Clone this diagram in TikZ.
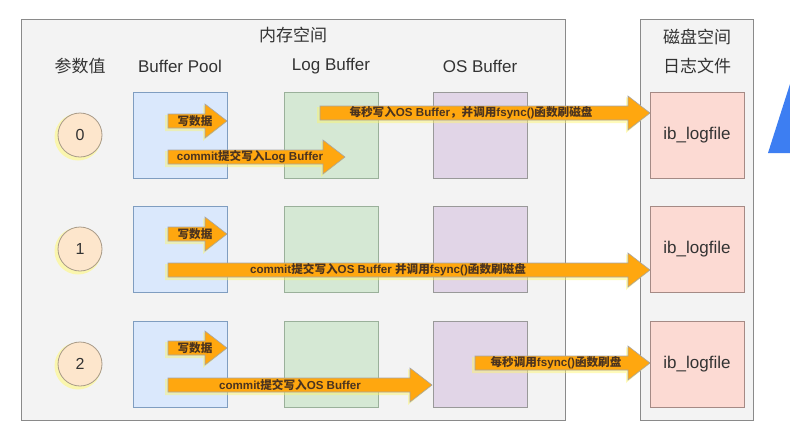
\documentclass[tikz,border=0pt]{standalone}
\usepackage{fontspec}
\setmainfont{Liberation Sans}
\newfontfamily\cjk{Noto Sans CJK SC}
\definecolor{bpfill}{HTML}{DAE8FC}
\definecolor{bpdraw}{HTML}{7F9DC0}
\definecolor{lbfill}{HTML}{D5E8D4}
\definecolor{lbdraw}{HTML}{9AB09A}
\definecolor{osfill}{HTML}{E1D5E7}
\definecolor{osdraw}{HTML}{999999}
\definecolor{lffill}{HTML}{FCDAD3}
\definecolor{lfdraw}{HTML}{A58A85}
\definecolor{cfill}{HTML}{F3F3F3}
\definecolor{cdraw}{HTML}{8A8A8A}
\definecolor{pfill}{HTML}{FDE6CC}
\definecolor{pdraw}{HTML}{A89A88}
\definecolor{arrfill}{HTML}{FFA70F}
\definecolor{arrtext}{HTML}{4A3320}
\definecolor{txt}{HTML}{333333}
\definecolor{tri}{HTML}{3D7EF2}
\begin{document}
\begin{tikzpicture}[x=1pt,y=-1pt,
  container/.style={draw=cdraw, fill=cfill, line width=0.9pt},
  boxbase/.style={line width=0.8pt, minimum width=94pt, minimum height=86pt, inner sep=0pt},
  bp/.style={boxbase, draw=bpdraw, fill=bpfill},
  lb/.style={boxbase, draw=lbdraw, fill=lbfill},
  osb/.style={boxbase, draw=osdraw, fill=osfill},
  logf/.style={boxbase, draw=lfdraw, fill=lffill, font=\fontsize{17}{17}\selectfont, text=txt},
  param/.style={circle, draw=pdraw, fill=pfill, line width=0.8pt, minimum size=44pt, inner sep=0pt, font=\fontsize{16}{16}\selectfont, text=txt},
  head/.style={font=\fontsize{17}{17}\selectfont, text=txt},
  alabel/.style={font=\bfseries\fontsize{11.6}{12}\selectfont, text=arrtext, inner sep=0pt},
  afill/.style={fill=arrfill, draw=black!35, line width=0.6pt}
]
\newcommand{\fatarr}[3]{%
  \fill[yellow!60, opacity=0.45] (#1-3,#3-6) -- (#2-24,#3-6) -- (#2-24,#3-16) -- (#2-2,#3+2) -- (#2-24,#3+20) -- (#2-24,#3+10) -- (#1-3,#3+10) -- cycle;
  \path[afill] (#1,#3-7) -- (#2-22,#3-7) -- (#2-22,#3-17) -- (#2,#3) -- (#2-22,#3+17) -- (#2-22,#3+7) -- (#1,#3+7) -- cycle;
}
\useasboundingbox (0,0) rectangle (790,440);
\fill[white] (0,0) rectangle (790,440);
% background artefact
\fill[tri] (768,153) -- (790,84) -- (790,153) -- cycle;
% containers
\draw[container] (21,19) rectangle (565,420);
\draw[container] (640,19) rectangle (753,420);
% headings
\node[head] (tmem) at (293,35) {\cjk 内存空间};
\node[head] (tdisk) at (697,37) {\cjk 磁盘空间};
\node[head] (tlog) at (697,66) {\cjk 日志文件};
\node[head] (tpar) at (80,66) {\cjk 参数值};
\node[head] (tbp) at (180,66) {Buffer Pool};
\node[head] (tlb) at (331,66) {Log Buffer};
\node[head] (tos) at (480,66) {OS Buffer};
% rows
\foreach \r/\y in {0/135,1/249,2/364}{
  \fill[yellow!50, opacity=0.6] (78,\y+2) circle (23.5pt);
  \node[param] (p\r) at (80,\y) {\r};
  \node[bp] (bp\r) at (180,\y) {};
  \node[lb] (lb\r) at (331,\y) {};
  \node[osb] (os\r) at (480,\y) {};
  \node[logf] (lf\r) at (697,\y) {ib\_logfile};
}
% row 0 arrows
\fatarr{168}{227}{121}
\node[alabel] (a01) at (195,121) {\cjk 写数据};
\fatarr{168}{345}{157}
\node[alabel] (a02) at (250,157) {commit{\cjk 提交写入}Log Buffer};
\fatarr{320}{650}{113}
\node[alabel] (a03) at (471,113) {{\cjk 每秒写入}OS Buffer{\cjk ，并调用}fsync(){\cjk 函数刷磁盘}};
% row 1 arrows
\fatarr{168}{227}{234}
\node[alabel] (a11) at (195,234) {\cjk 写数据};
\fatarr{168}{650}{270}
\node[alabel] (a12) at (388,270) {commit{\cjk 提交写入}OS Buffer {\cjk 并调用}fsync(){\cjk 函数刷磁盘}};
% row 2 arrows
\fatarr{168}{227}{348}
\node[alabel] (a21) at (195,348) {\cjk 写数据};
\fatarr{168}{432}{385}
\node[alabel] (a22) at (290,385) {commit{\cjk 提交写入}OS Buffer};
\fatarr{475}{650}{363}
\node[alabel] (a23) at (556,363) {{\cjk 每秒调用}fsync(){\cjk 函数刷盘}};
\end{tikzpicture}
\end{document}
